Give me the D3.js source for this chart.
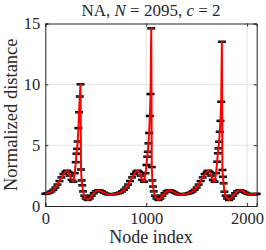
<!DOCTYPE html>
<html>
<head>
<meta charset="utf-8">
<script src="https://cdn.jsdelivr.net/npm/d3@7"></script>
<style>
  html, body { margin: 0; padding: 0; background: #fff; }
  svg { display: block; }
  text { font-family: "Liberation Serif", "DejaVu Serif", serif; fill: #262626; }
</style>
</head>
<body>
<div id="chart"></div>
<script>
// Node indices and mean normalized distance, one pair of arrays per period
const period1Nodes = [0, 20, 40, 60, 80, 100, 120, 140, 160, 180, 200, 215, 230, 245, 260, 277, 292, 302, 309, 315, 321, 328, 335, 342, 349, 354, 360, 366, 374, 386, 400, 420, 440, 460, 480, 500, 520, 540, 560, 580, 600, 620, 640, 660, 680];
const period1Vals = [1.00, 1.04, 1.10, 1.20, 1.33, 1.52, 1.76, 2.05, 2.35, 2.62, 2.82, 2.90, 2.80, 2.50, 2.15, 2.00, 2.70, 3.60, 4.30, 4.70, 5.30, 6.40, 7.70, 9.00, 10.00, 3.00, 2.10, 1.70, 1.20, 0.85, 0.62, 0.50, 0.62, 0.85, 1.05, 1.20, 1.28, 1.27, 1.20, 1.10, 1.02, 0.97, 0.95, 0.96, 0.98];

const period2Nodes = [700, 720, 740, 760, 780, 800, 820, 840, 860, 880, 900, 915, 930, 945, 960, 978, 993, 1003, 1010, 1016, 1022, 1029, 1036, 1043, 1050, 1055, 1061, 1067, 1075, 1087, 1101, 1121, 1141, 1161, 1181, 1201, 1221, 1241, 1261, 1281, 1301, 1321, 1341, 1361, 1381];
const period2Vals = [1.00, 1.04, 1.10, 1.20, 1.33, 1.52, 1.76, 2.05, 2.35, 2.62, 2.82, 2.90, 2.80, 2.50, 2.15, 2.00, 2.70, 3.37, 4.05, 4.46, 5.15, 6.00, 7.40, 9.20, 14.60, 3.20, 2.10, 1.60, 1.20, 0.85, 0.62, 0.50, 0.62, 0.85, 1.05, 1.20, 1.28, 1.27, 1.20, 1.10, 1.02, 0.97, 0.95, 0.96, 0.98];

const period3Nodes = [1400, 1420, 1440, 1460, 1480, 1500, 1520, 1540, 1560, 1580, 1600, 1615, 1630, 1645, 1660, 1678, 1693, 1703, 1710, 1716, 1722, 1729, 1736, 1743, 1750, 1755, 1761, 1767, 1775, 1787, 1801, 1821, 1841, 1861, 1881, 1901, 1921, 1941, 1961, 1981, 2001, 2021, 2041, 2061, 2081, 2095];
const period3Vals = [1.00, 1.04, 1.10, 1.20, 1.33, 1.52, 1.76, 2.05, 2.35, 2.62, 2.82, 2.90, 2.80, 2.50, 2.15, 2.00, 2.70, 3.64, 4.33, 4.74, 5.28, 6.10, 7.00, 8.57, 13.50, 2.96, 2.40, 1.86, 1.18, 0.85, 0.62, 0.50, 0.62, 0.85, 1.05, 1.20, 1.28, 1.27, 1.20, 1.10, 1.02, 0.97, 0.95, 0.96, 0.98, 1.00];

const errHalf = 0.05;
const xTicks = [0, 1000, 2000];
const yTicks = [0, 5, 10, 15];
const nodeCount = 2095;

const points = [
  ...period1Nodes.map((n, i) => ({ n, v: period1Vals[i] })),
  ...period2Nodes.map((n, i) => ({ n, v: period2Vals[i] })),
  ...period3Nodes.map((n, i) => ({ n, v: period3Vals[i] }))
];

const W = 266, H = 250;
const margin = { top: 23.5, right: 9.3, bottom: 44, left: 45.3 };
const iw = W - margin.left - margin.right;
const ih = H - margin.top - margin.bottom;

const svg = d3.select('#chart').append('svg')
  .attr('width', W)
  .attr('height', H);

const x = d3.scaleLinear().domain([0, nodeCount]).range([margin.left, margin.left + iw]);
const y = d3.scaleLinear().domain([0, 15]).range([margin.top + ih, margin.top]);

// grid
const grid = svg.append('g').attr('stroke', '#e3e3e3').attr('stroke-width', 1);
xTicks.filter(t => t > 0).forEach(t => {
  grid.append('line').attr('x1', x(t)).attr('x2', x(t)).attr('y1', y(0)).attr('y2', y(15));
});
yTicks.filter(t => t > 0 && t < 15).forEach(t => {
  grid.append('line').attr('x1', x(0)).attr('x2', x(nodeCount)).attr('y1', y(t)).attr('y2', y(t));
});

// error bars
const eb = svg.append('g').attr('stroke', '#000').attr('stroke-width', 1.3);
points.forEach(p => {
  const px = x(p.n);
  eb.append('line').attr('x1', px).attr('x2', px)
    .attr('y1', y(p.v - errHalf)).attr('y2', y(p.v + errHalf));
  [p.v - errHalf, p.v + errHalf].forEach(v => {
    eb.append('line').attr('x1', px - 4).attr('x2', px + 4)
      .attr('y1', y(v)).attr('y2', y(v));
  });
});

// mean curve
const line = d3.line().x(d => x(d.n)).y(d => y(d.v));
svg.append('path')
  .datum(points)
  .attr('fill', 'none')
  .attr('stroke', '#ff0000')
  .attr('stroke-width', 2)
  .attr('stroke-linejoin', 'round')
  .attr('d', line);

// axes, ticks inside, box on
const tickLen = 3;
const axisCol = '#262626';
svg.append('g')
  .attr('transform', `translate(0,${y(0)})`)
  .call(d3.axisBottom(x).tickValues(xTicks).tickSize(-tickLen).tickPadding(6).tickFormat(d3.format('d')))
  .call(g => g.select('.domain').attr('stroke', axisCol))
  .call(g => g.selectAll('line').attr('stroke', axisCol))
  .call(g => g.selectAll('text').attr('font-size', 16.5).attr('fill', axisCol)
    .style('font-family', '"Liberation Serif", serif'));

svg.append('g')
  .attr('transform', `translate(${x(0)},0)`)
  .call(d3.axisLeft(y).tickValues(yTicks).tickSize(-tickLen).tickPadding(5))
  .call(g => g.select('.domain').attr('stroke', axisCol))
  .call(g => g.selectAll('line').attr('stroke', axisCol))
  .call(g => g.selectAll('text').attr('font-size', 16.5).attr('fill', axisCol)
    .style('font-family', '"Liberation Serif", serif'));

svg.append('g')
  .attr('transform', `translate(0,${y(15)})`)
  .call(d3.axisTop(x).tickValues(xTicks).tickSize(-tickLen).tickFormat(''))
  .call(g => g.select('.domain').attr('stroke', axisCol))
  .call(g => g.selectAll('line').attr('stroke', axisCol));

svg.append('g')
  .attr('transform', `translate(${x(nodeCount)},0)`)
  .call(d3.axisRight(y).tickValues(yTicks).tickSize(-tickLen).tickFormat(''))
  .call(g => g.select('.domain').attr('stroke', axisCol))
  .call(g => g.selectAll('line').attr('stroke', axisCol));

svg.selectAll('.domain').attr('stroke-width', 1);

// labels
const cx = margin.left + iw / 2;
const title = svg.append('text')
  .attr('x', cx).attr('y', 16)
  .attr('text-anchor', 'middle')
  .attr('font-size', 17);
title.append('tspan').text('NA, ');
title.append('tspan').attr('font-style', 'italic').text('N');
title.append('tspan').text(' = 2095, ');
title.append('tspan').attr('font-style', 'italic').text('c');
title.append('tspan').text(' = 2');

svg.append('text')
  .attr('x', cx).attr('y', 243)
  .attr('text-anchor', 'middle')
  .attr('font-size', 18)
  .text('Node index');

svg.append('text')
  .attr('transform', `translate(17,${margin.top + ih / 2}) rotate(-90)`)
  .attr('text-anchor', 'middle')
  .attr('font-size', 18.5)
  .text('Normalized distance');
</script>
</body>
</html>
